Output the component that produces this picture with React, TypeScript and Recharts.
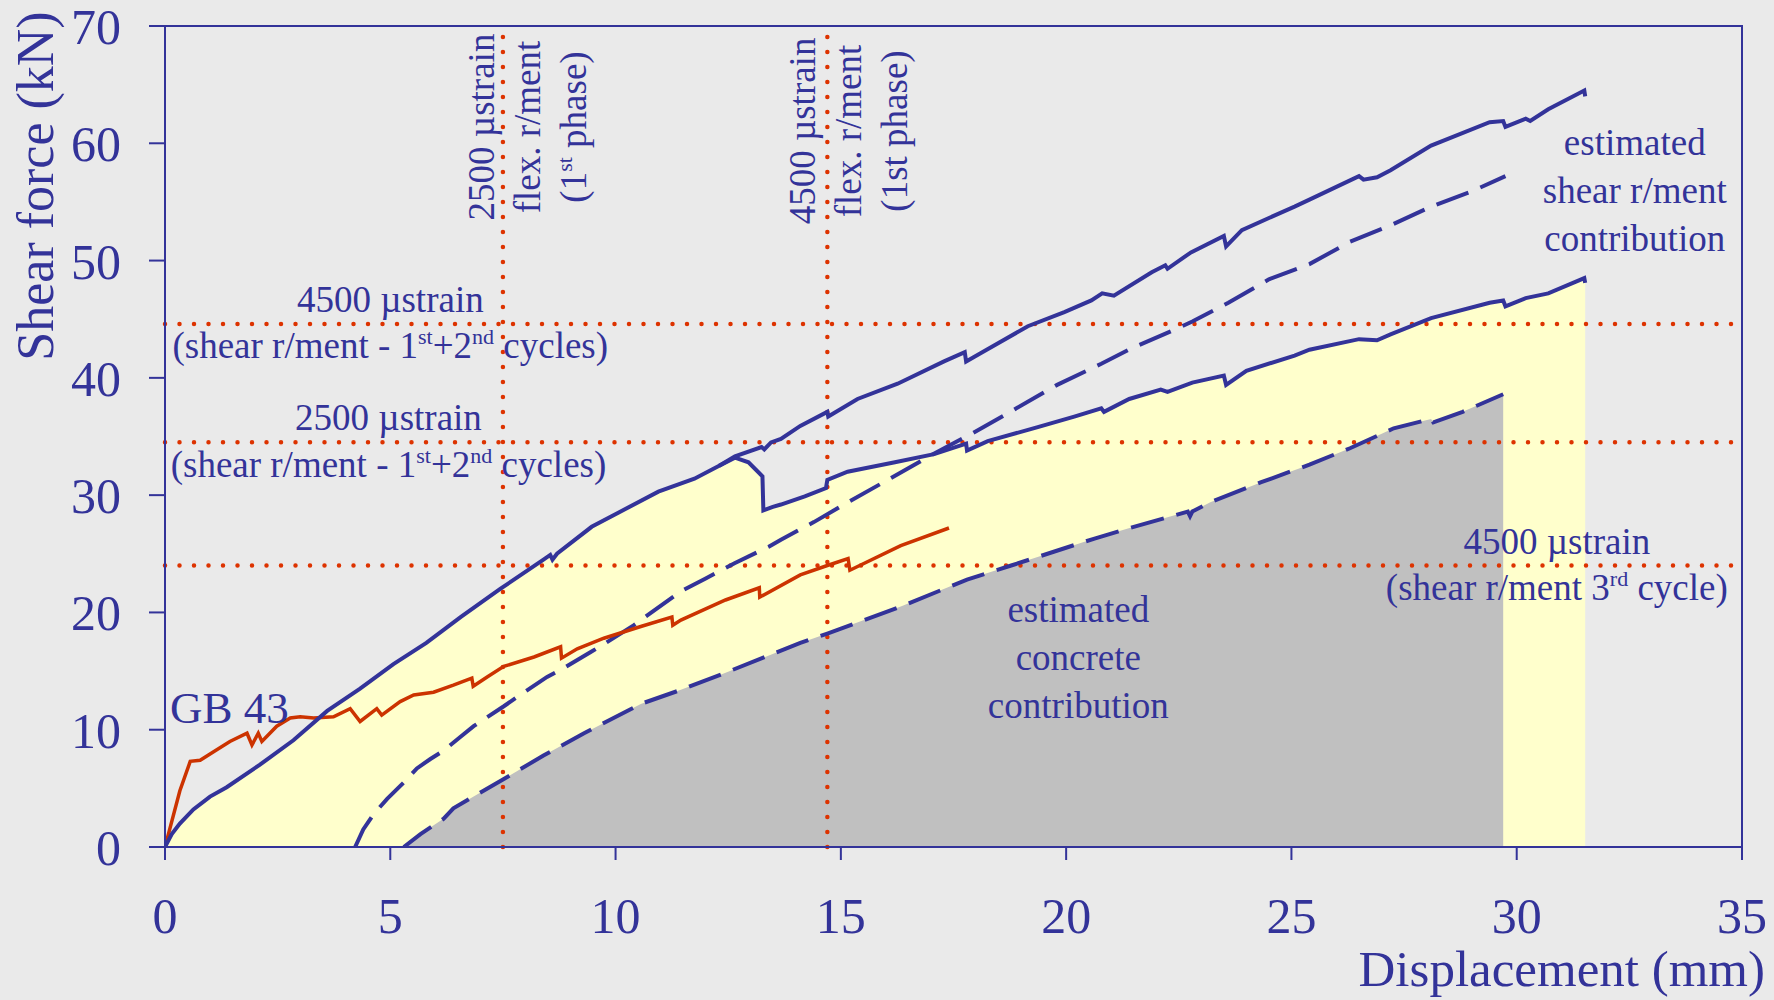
import React from "react";
import {
  ComposedChart,
  Area,
  Line,
  XAxis,
  YAxis,
  ReferenceLine,
  ReferenceArea,
  ReferenceDot,
} from "recharts";

const BLUE = "#333399";
const RED = "#CC3300";
const DOTS = "#DD3300";
const YELLOW = "#FFFFCC";
const GREY = "#C0C0C0";
const BG = "#EAEAEA";
const SERIF = '"Liberation Serif", "Times New Roman", serif';

// [displacement mm, shear force kN]
const responseLower = [
  [0, 0], [0.15, 1.1], [0.33, 2.0], [0.63, 3.2], [1.0, 4.3], [1.37, 5.1], [2.1, 7.0],
  [2.85, 9.1], [3.6, 11.6], [4.33, 13.5], [5.07, 15.6], [5.8, 17.4], [6.56, 19.6],
  [7.44, 22.0], [8.4, 24.5], [8.55, 24.9], [8.6, 24.5], [8.7, 25.0], [9.47, 27.3],
  [10.06, 28.5], [10.95, 30.3], [11.75, 31.4], [12.3, 32.5], [12.65, 33.2], [12.95, 32.8],
  [13.26, 31.6], [13.28, 28.7], [13.49, 29.0], [13.67, 29.2], [14.2, 29.9], [14.67, 30.6],
  [14.7, 31.3], [15.15, 32.0], [16.2, 32.8], [17.07, 33.5], [17.78, 34.4], [17.8, 33.8],
  [18.26, 34.6], [19.37, 35.8], [20.18, 36.7], [20.78, 37.4], [20.84, 37.1], [21.4, 38.2],
  [22.1, 39.0], [22.25, 38.8], [22.8, 39.6], [23.5, 40.2], [23.55, 39.4], [24.0, 40.6],
  [25.07, 41.9], [25.4, 42.4], [26.5, 43.3], [26.9, 43.2], [27.2, 43.7], [28.1, 45.1],
  [29.4, 46.4], [29.7, 46.6], [29.75, 46.1], [30.2, 46.8], [30.7, 47.2], [31.5, 48.5],
  [31.52, 48.1],
];

const responseUpper = [
  [12.3, 32.5], [12.65, 33.3], [13.24, 34.1], [13.3, 33.9], [13.45, 34.5], [13.67, 34.8],
  [14.1, 35.9], [14.7, 37.1], [14.72, 36.7], [15.37, 38.2], [16.26, 39.5], [17.29, 41.4],
  [17.75, 42.2], [17.78, 41.4], [18.1, 42.1], [19.15, 44.4], [19.96, 45.6], [20.56, 46.6],
  [20.8, 47.2], [21.06, 47.0], [21.9, 49.0], [22.2, 49.6], [22.25, 49.3], [22.77, 50.7],
  [23.5, 52.1], [23.55, 51.2], [23.9, 52.6], [25.07, 54.6], [25.4, 55.2], [26.5, 57.2],
  [26.6, 56.9], [26.9, 57.1], [27.2, 57.7], [28.1, 59.8], [29.4, 61.8], [29.7, 61.9],
  [29.75, 61.4], [30.2, 62.1], [30.3, 61.9], [30.7, 62.9], [31.5, 64.5], [31.52, 64.0],
];

const dashedUpper = [
  [4.22, 0], [4.4, 1.5], [4.63, 2.8], [4.93, 4.1], [5.3, 5.5], [5.59, 6.7], [5.89, 7.5],
  [6.18, 8.2], [6.56, 9.4], [6.85, 10.3], [7.52, 12.0], [7.82, 12.8], [8.48, 14.5],
  [8.78, 15.1], [9.44, 16.6], [9.74, 17.3], [10.4, 18.9], [11.45, 21.8], [12.0, 22.9],
  [12.64, 24.2], [13.4, 25.6], [13.67, 26.2], [14.4, 27.7], [15.07, 29.2], [16.04, 31.3],
  [17.0, 33.4], [17.93, 35.3], [18.85, 37.3], [19.8, 39.4], [20.78, 41.2], [21.44, 42.5],
  [22.4, 44.1], [22.8, 44.8], [23.6, 46.4], [24.5, 48.4], [25.4, 49.7], [26.3, 51.6],
  [27.2, 53.0], [28.1, 54.6], [29.0, 55.9], [29.75, 57.2],
];

const dashedConcrete = [
  [5.3, 0], [5.67, 1.1], [6.18, 2.4], [6.4, 3.3], [7.52, 5.8], [8.4, 7.8], [9.3, 9.7],
  [10.56, 12.2], [11.45, 13.4], [12.4, 14.8], [14.1, 17.4], [14.7, 18.2], [16.33, 20.5],
  [17.8, 22.8], [18.78, 24.0], [20.63, 26.3], [21.37, 27.15], [22.7, 28.6], [22.75, 28.2],
  [22.8, 28.6], [23.2, 29.4], [24.33, 31.1], [25.4, 32.6], [26.3, 34.0], [27.27, 35.7],
  [28.1, 36.5], [28.15, 36.2], [28.8, 37.1], [29.7, 38.6],
];

const gb43 = [
  [0, 0], [0.33, 4.8], [0.56, 7.3], [0.78, 7.4], [1.07, 8.1], [1.44, 9.0], [1.82, 9.7],
  [1.93, 8.7], [2.07, 9.7], [2.15, 9.0], [2.48, 10.3], [2.78, 11.0], [3.0, 11.1], [3.3, 11.0],
  [3.74, 11.1], [4.11, 11.8], [4.33, 10.7], [4.7, 11.8], [4.81, 11.25], [5.22, 12.4],
  [5.52, 12.96], [5.96, 13.2], [6.4, 13.8], [6.81, 14.4], [6.84, 13.7], [7.15, 14.5],
  [7.52, 15.4], [8.19, 16.2], [8.78, 17.07], [8.8, 16.1], [9.15, 16.9], [9.74, 17.8],
  [10.56, 18.8], [11.25, 19.6], [11.27, 18.9], [11.45, 19.35], [12.44, 21.06], [13.19, 22.1],
  [13.2, 21.3], [14.1, 23.2], [14.7, 24.0], [15.16, 24.6], [15.2, 23.6], [16.33, 25.7],
  [17.4, 27.2],
];

const xTicks = [0, 5, 10, 15, 20, 25, 30, 35];
const yTicks = [0, 10, 20, 30, 40, 50, 60, 70];
const strainLevelsY = [44.6, 34.5, 24];
const strainLevelsX = [7.5, 14.7];

const pts = (arr: number[][]) => arr.map(([x, y]) => ({ x, y }));

type Part = { t: string; sup?: boolean };
type Note = {
  x: number;
  y: number;
  lines: Part[][];
  size?: number;
  step?: number;
  vertical?: boolean;
  anchor?: "start" | "middle" | "end";
};

const p = (t: string): Part => ({ t });
const s = (t: string): Part => ({ t, sup: true });

const cyclesLine = [p("(shear r/ment - 1"), s("st"), p("+2"), s("nd"), p(" cycles)")];

const notes: Note[] = [
  { x: 5.0, y: 45.6, step: 46, lines: [[p("4500 µstrain")], cyclesLine] },
  { x: 4.96, y: 35.55, step: 47, lines: [[p("2500 µstrain")], cyclesLine] },
  {
    x: 30.89, y: 24.98, step: 46,
    lines: [[p("4500 µstrain")], [p("(shear r/ment 3"), s("rd"), p(" cycle)")]],
  },
  {
    x: 32.62, y: 59.0, step: 48,
    lines: [[p("estimated")], [p("shear r/ment")], [p("contribution")]],
  },
  {
    x: 20.27, y: 19.18, step: 48,
    lines: [[p("estimated")], [p("concrete")], [p("contribution")]],
  },
  { x: 0.11, y: 10.57, size: 45, anchor: "start", lines: [[p("GB 43")]] },
  {
    x: 7.31, y: 61.39, step: 46, vertical: true,
    lines: [[p("2500 µstrain")], [p("flex. r/ment")], [p("(1"), s("st"), p(" phase)")]],
  },
  {
    x: 14.42, y: 61.05, step: 46, vertical: true,
    lines: [[p("4500 µstrain")], [p("flex. r/ment")], [p("(1st phase)")]],
  },
];

function renderParts(parts: Part[], size: number) {
  const rise = Math.round(size * 0.38);
  let raised = false;
  return parts.map((part, i) => {
    let dy = 0;
    if (part.sup && !raised) dy = -rise;
    if (!part.sup && raised) dy = rise;
    raised = !!part.sup;
    return (
      <tspan key={i} dy={dy || undefined} fontSize={part.sup ? Math.round(size * 0.6) : undefined}>
        {part.t}
      </tspan>
    );
  });
}

function NoteText({ cx, cy, note }: { cx: number; cy: number; note: Note }) {
  const size = note.size ?? 37;
  const step = note.step ?? 46;
  return (
    <g>
      {note.lines.map((parts, i) => {
        const bx = note.vertical ? cx + i * step : cx;
        const by = note.vertical ? cy : cy + i * step;
        return (
          <text
            key={i}
            x={bx}
            y={by}
            transform={note.vertical ? `rotate(-90 ${bx} ${by})` : undefined}
            textAnchor={note.anchor ?? "middle"}
            fill={BLUE}
            fontFamily={SERIF}
            fontSize={size}
          >
            {renderParts(parts, size)}
          </text>
        );
      })}
    </g>
  );
}

const XTick = (props: any) => (
  <text x={props.x} y={props.y + 71} textAnchor="middle" fill={BLUE} fontFamily={SERIF} fontSize={50}>
    {props.payload.value}
  </text>
);

const YTick = (props: any) => (
  <text x={props.x - 26} y={props.y + 18} textAnchor="end" fill={BLUE} fontFamily={SERIF} fontSize={50}>
    {props.payload.value}
  </text>
);

const xTitle = (props: any) => {
  const vb = props.viewBox;
  return (
    <text
      x={vb.x + vb.width + 23}
      y={vb.y + 139}
      textAnchor="end"
      fill={BLUE}
      fontFamily={SERIF}
      fontSize={51}
    >
      Displacement (mm)
    </text>
  );
};

const yTitle = (props: any) => {
  const vb = props.viewBox;
  const x = vb.x + 53;
  const y = vb.y + 160;
  return (
    <text
      x={x}
      y={y}
      transform={`rotate(-90 ${x} ${y})`}
      textAnchor="middle"
      fill={BLUE}
      fontFamily={SERIF}
      fontSize={52}
    >
      Shear force (kN)
    </text>
  );
};

export default function App() {
  return (
    <div style={{ position: "fixed", left: 0, top: 0, width: 1774, height: 1000, background: BG }}>
      <ComposedChart width={1774} height={1000} margin={{ top: 26, right: 32, bottom: 0, left: 0 }}>
        <XAxis
          type="number"
          dataKey="x"
          domain={[0, 35]}
          ticks={xTicks}
          allowDataOverflow
          height={153}
          tickSize={13}
          axisLine={{ stroke: BLUE, strokeWidth: 2 }}
          tickLine={{ stroke: BLUE, strokeWidth: 2 }}
          tick={XTick}
          label={xTitle}
        />
        <YAxis
          type="number"
          dataKey="y"
          domain={[0, 70]}
          ticks={yTicks}
          allowDataOverflow
          width={165}
          tickSize={16}
          axisLine={{ stroke: BLUE, strokeWidth: 2 }}
          tickLine={{ stroke: BLUE, strokeWidth: 2 }}
          tick={YTick}
          label={yTitle}
        />
        <ReferenceArea x1={0} x2={35} y1={0} y2={70} fill="none" stroke={BLUE} strokeWidth={2} />

        <Area
          data={pts(responseLower)}
          dataKey="y"
          type="linear"
          fill={YELLOW}
          fillOpacity={1}
          stroke="none"
          isAnimationActive={false}
        />
        <Area
          data={pts(dashedConcrete)}
          dataKey="y"
          type="linear"
          fill={GREY}
          fillOpacity={1}
          stroke="none"
          isAnimationActive={false}
        />

        {strainLevelsY.map((v) => (
          <ReferenceLine
            key={"h" + v}
            y={v}
            stroke={DOTS}
            strokeWidth={4.5}
            strokeDasharray="0 14.5"
            strokeLinecap="round"
          />
        ))}
        {strainLevelsX.map((v) => (
          <ReferenceLine
            key={"v" + v}
            x={v}
            stroke={DOTS}
            strokeWidth={4.5}
            strokeDasharray="0 15"
            strokeLinecap="round"
          />
        ))}

        <Line
          data={pts(dashedConcrete)}
          dataKey="y"
          type="linear"
          stroke={BLUE}
          strokeWidth={4}
          strokeDasharray="34 13"
          dot={false}
          isAnimationActive={false}
        />
        <Line
          data={pts(dashedUpper)}
          dataKey="y"
          type="linear"
          stroke={BLUE}
          strokeWidth={4}
          strokeDasharray="34 13"
          dot={false}
          isAnimationActive={false}
        />
        <Line
          data={pts(gb43)}
          dataKey="y"
          type="linear"
          stroke={RED}
          strokeWidth={3.5}
          dot={false}
          isAnimationActive={false}
        />
        <Line
          data={pts(responseLower)}
          dataKey="y"
          type="linear"
          stroke={BLUE}
          strokeWidth={4}
          dot={false}
          isAnimationActive={false}
        />
        <Line
          data={pts(responseUpper)}
          dataKey="y"
          type="linear"
          stroke={BLUE}
          strokeWidth={4}
          dot={false}
          isAnimationActive={false}
        />

        {notes.map((n, i) => (
          <ReferenceDot
            key={"note" + i}
            x={n.x}
            y={n.y}
            r={0}
            shape={(sp: any) => <NoteText cx={sp.cx} cy={sp.cy} note={n} />}
          />
        ))}
      </ComposedChart>
    </div>
  );
}
